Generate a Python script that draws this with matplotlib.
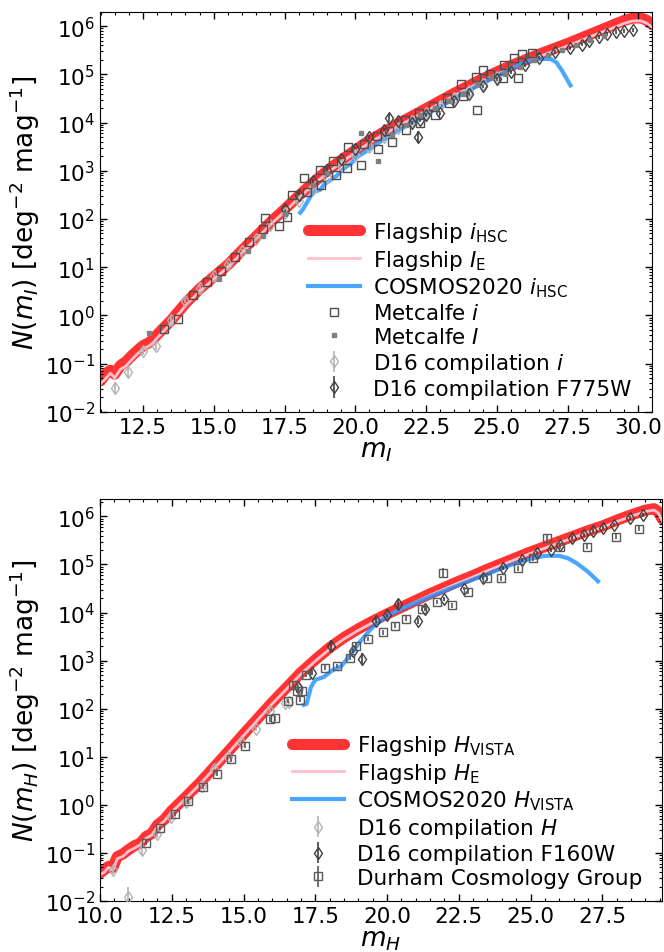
import numpy as np
import matplotlib
matplotlib.use("Agg")
import matplotlib.pyplot as plt
from matplotlib.ticker import MultipleLocator, LogLocator

plt.rcParams['font.family'] = ['DejaVu Sans']
plt.rcParams['mathtext.fontset'] = 'dejavusans'
FS_TICK = 15.5
FS_LEG = 15.5
FS_LAB = 19

# ---------------- Top panel data (i band) ----------------
flag_i_m = [11.0, 11.2, 11.35, 11.5, 11.7, 11.9, 12.1, 12.3, 12.5, 12.7, 12.85, 13.0, 13.5, 14.0, 14.5,
            15.0, 15.5, 16.0, 16.5, 17.0, 17.5, 18.0, 18.5, 19.0, 19.5, 20.0, 20.5, 21.0, 21.5,
            22.0, 22.5, 23.0, 23.5, 24.0, 24.5, 25.0, 25.5, 26.0, 26.5, 27.0, 27.5, 28.0, 28.5,
            29.0, 29.5, 29.8, 30.1, 30.3, 30.5]
flag_i_logN = [-1.36, -1.2, -1.14, -1.22, -1.04, -0.96, -0.84, -0.73, -0.63, -0.57, -0.5, -0.4, -0.1, 0.25, 0.55,
               0.8, 1.05, 1.35, 1.64, 1.93, 2.2, 2.48, 2.75, 3.0, 3.22, 3.43, 3.63, 3.8, 3.97,
               4.13, 4.29, 4.45, 4.61, 4.76, 4.91, 5.05, 5.18, 5.3, 5.42, 5.53, 5.64, 5.76, 5.88,
               6.0, 6.12, 6.17, 6.17, 6.12, 6.03]
flagIE_m = [11.0, 11.2, 11.35, 11.5, 11.7, 11.9, 12.1, 12.3, 12.5, 12.7, 12.85, 13.0, 13.5, 14.0, 14.5,
            15.0, 15.5, 16.0, 16.5, 17.0, 17.5, 18.0, 18.5, 19.0, 19.5, 20.0, 20.5, 21.0, 21.5,
            22.0, 22.5, 23.0, 23.5, 24.0, 24.5, 25.0, 25.5, 26.0, 26.5, 27.0, 27.5, 28.0, 28.5,
            29.0, 29.5, 29.8, 30.1, 30.3, 30.5]
flagIE_logN = [-1.42, -1.3, -1.2, -1.3, -1.12, -1.05, -0.92, -0.8, -0.7, -0.64, -0.57, -0.47, -0.16, 0.2, 0.5,
               0.75, 1.0, 1.3, 1.59, 1.88, 2.15, 2.43, 2.7, 2.95, 3.17, 3.38, 3.58, 3.75, 3.92,
               4.08, 4.24, 4.4, 4.56, 4.71, 4.86, 5.0, 5.13, 5.25, 5.37, 5.48, 5.59, 5.71, 5.83,
               5.94, 6.06, 6.11, 6.11, 6.06, 5.97]
cos_i_m = [18.05, 18.15, 18.3, 18.45, 18.6, 18.75, 18.9, 19.1, 19.35, 19.6, 19.85, 20.1, 20.5, 21.0,
           21.5, 22.0, 22.5, 23.0, 23.5, 24.0, 24.5, 25.0, 25.5, 26.0, 26.5, 26.9, 27.1, 27.3, 27.6]
cos_i_logN = [2.13, 2.2, 2.35, 2.5, 2.58, 2.6, 2.72, 2.8, 2.9, 3.05, 3.15, 3.3, 3.45, 3.65,
              3.83, 4.0, 4.17, 4.33, 4.5, 4.66, 4.82, 4.96, 5.12, 5.26, 5.32, 5.32, 5.25, 5.08, 4.77]

metI_m = [13.25, 13.75, 14.25, 14.75, 15.25, 15.75, 16.25, 16.75, 16.8, 17.3, 17.6, 17.75, 18.2, 18.3,
          18.75, 18.8, 19.2, 19.3, 19.7, 19.75, 20.2, 20.3, 20.75, 20.8, 21.2, 21.3, 21.75, 21.8,
          22.25, 22.3, 22.75, 22.8, 23.25, 23.3, 23.75, 23.8, 24.25, 24.3, 24.5, 24.75, 25.2, 25.25,
          25.6, 25.75, 25.9, 26.25]
metI_logN = [-0.29, -0.07, 0.42, 0.7, 0.93, 1.22, 1.52, 1.8, 2.02, 1.85, 2.05, 2.5, 2.85, 2.55,
             3.02, 2.7, 3.2, 2.92, 3.06, 3.5, 3.13, 3.55, 3.72, 3.45, 3.82, 3.6, 4.05, 3.85,
             4.2, 4.0, 4.35, 4.15, 4.5, 4.4, 4.8, 4.55, 4.95, 4.26, 5.1, 5.0, 4.92, 5.2,
             5.33, 4.92, 5.43, 5.45]
metBigI_m = [12.7, 15.2, 16.2, 16.74, 17.5, 18.5, 19.0, 20.2, 20.8, 21.3, 21.8, 22.3, 22.8, 23.3,
             23.8, 24.3, 24.8, 25.3, 25.8, 26.3, 26.8, 27.3, 27.8, 28.3, 28.8]
metBigI_logN = [-0.36, 0.75, 1.33, 1.64, 2.1, 2.7, 2.95, 3.79, 3.2, 3.75, 3.95, 4.15, 4.3, 4.45,
                4.6, 4.8, 4.95, 5.0, 5.15, 5.3, 5.4, 5.5, 5.6, 5.72, 5.8]
d16i_m = [11.5, 11.98, 12.5, 12.97, 13.5, 14.0, 14.5, 15.0, 15.5, 16.0, 16.5, 17.0, 17.5, 18.0,
          18.5, 19.0, 19.5, 20.0, 20.5, 21.0, 21.5, 22.0, 22.5, 23.0, 23.5, 24.0, 24.5, 25.0]
d16i_logN = [-1.5, -1.18, -0.74, -0.63, -0.1, 0.3, 0.57, 0.82, 1.07, 1.33, 1.58, 1.88, 2.13, 2.38,
             2.63, 2.88, 3.12, 3.33, 3.5, 3.7, 3.88, 4.04, 4.2, 4.35, 4.5, 4.65, 4.8, 4.95]
d16i_err = [0.12, 0.1, 0.08, 0.08, 0.06, 0.05, 0.05, 0.04, 0.04, 0.04, 0.04, 0.04, 0.04, 0.04,
            0.04, 0.04, 0.04, 0.04, 0.04, 0.04, 0.04, 0.04, 0.04, 0.04, 0.04, 0.04, 0.04, 0.04]
d16f775_m = [17.5, 18.0, 18.5, 19.0, 19.5, 20.0, 20.5, 21.0, 21.2, 21.5, 22.0, 22.2, 22.3, 22.5, 23.0,
             23.5, 24.0, 24.5, 25.0, 25.5, 26.0, 26.5, 27.04, 27.6, 28.0, 28.27, 28.6, 28.9, 29.2,
             29.5, 29.8]
d16f775_logN = [2.2, 2.5, 2.78, 3.02, 3.25, 3.45, 3.7, 3.85, 4.1, 4.03, 4.0, 3.7, 4.05, 4.15, 4.19,
                4.45, 4.6, 4.75, 4.9, 5.05, 5.2, 5.35, 5.47, 5.54, 5.62, 5.69, 5.78, 5.84, 5.88,
                5.9, 5.93]
d16f775_err = [0.06, 0.05, 0.05, 0.05, 0.04, 0.04, 0.04, 0.04, 0.08, 0.04, 0.04, 0.12, 0.04, 0.04, 0.04,
               0.04, 0.04, 0.04, 0.04, 0.04, 0.04, 0.04, 0.04, 0.04, 0.04, 0.04, 0.04, 0.04, 0.04,
               0.04, 0.04]

# ---------------- Bottom panel data (H band) ----------------
flag_H_m = [10.0, 10.15, 10.3, 10.45, 10.6, 10.8, 11.0, 11.2, 11.4, 11.6, 11.8, 12.0, 12.25, 12.5,
            13.0, 13.5, 14.0, 14.5, 15.0, 15.5, 16.0, 16.5, 17.0, 17.5, 18.0, 18.5, 19.0, 19.5,
            20.0, 20.5, 21.0, 21.5, 22.0, 22.5, 23.0, 23.5, 24.0, 24.5, 25.0, 25.5, 26.0, 26.5,
            27.0, 27.5, 28.0, 28.5, 29.0, 29.3, 29.45, 29.58]
flag_H_logN = [-1.42, -1.35, -1.28, -1.3, -1.08, -1.02, -0.93, -0.85, -0.8, -0.66, -0.6, -0.42, -0.3, -0.12,
               0.17, 0.47, 0.8, 1.13, 1.47, 1.8, 2.13, 2.44, 2.75, 3.02, 3.27, 3.48, 3.66, 3.82,
               3.97, 4.11, 4.25, 4.39, 4.52, 4.65, 4.77, 4.9, 5.02, 5.14, 5.26, 5.37, 5.48, 5.59,
               5.7, 5.8, 5.92, 6.03, 6.13, 6.16, 6.1, 5.95]
flagHE_m = [10.0, 10.15, 10.3, 10.45, 10.6, 10.8, 11.0, 11.2, 11.4, 11.6, 11.8, 12.0, 12.25, 12.5,
            13.0, 13.5, 14.0, 14.5, 15.0, 15.5, 16.0, 16.5, 17.0, 17.5, 18.0, 18.5, 19.0, 19.5,
            20.0, 20.5, 21.0, 21.5, 22.0, 22.5, 23.0, 23.5, 24.0, 24.5, 25.0, 25.5, 26.0, 26.5,
            27.0, 27.5, 28.0, 28.5, 29.0, 29.3, 29.45, 29.58]
flagHE_logN = [-1.45, -1.4, -1.3, -1.36, -1.12, -1.07, -0.96, -0.9, -0.83, -0.7, -0.63, -0.46, -0.33, -0.15,
               0.14, 0.44, 0.77, 1.1, 1.44, 1.77, 2.1, 2.41, 2.72, 2.99, 3.24, 3.45, 3.63, 3.79,
               3.94, 4.08, 4.22, 4.36, 4.49, 4.62, 4.74, 4.87, 4.99, 5.11, 5.23, 5.34, 5.45, 5.56,
               5.67, 5.77, 5.89, 6.0, 6.1, 6.13, 6.07, 5.92]
cos_H_m = [17.1, 17.2, 17.35, 17.5, 17.8, 18.1, 18.4, 18.7, 19.0, 19.5, 20.0, 20.5, 21.0, 21.5,
           22.0, 22.5, 23.0, 23.5, 24.0, 24.5, 25.0, 25.5, 26.0, 26.3, 26.6, 27.0, 27.35]
cos_H_logN = [2.08, 2.1, 2.45, 2.6, 2.66, 2.8, 2.88, 3.1, 3.35, 3.7, 3.93, 4.08, 4.2, 4.33,
              4.45, 4.57, 4.69, 4.8, 4.92, 5.03, 5.12, 5.18, 5.18, 5.13, 5.03, 4.85, 4.65]

d16H_m = [10.46, 10.98, 11.48, 12.0, 12.46, 13.0, 13.54, 13.97, 14.46, 14.91, 15.44, 15.94, 16.46,
          16.57, 16.95]
d16H_logN = [-1.36, -1.91, -0.94, -0.6, -0.26, 0.06, 0.4, 0.74, 0.99, 1.3, 1.57, 1.95, 2.12,
             2.13, 2.4]
d16H_err = [0.08, 0.2, 0.1, 0.08, 0.06, 0.05, 0.05, 0.04, 0.04, 0.04, 0.04, 0.04, 0.04, 0.04, 0.04]
d16f160_m = [16.9, 17.4, 18.05, 18.8, 19.13, 19.6, 20.0, 20.38, 21.07, 21.34, 22.0, 22.68, 23.36,
             24.03, 24.7, 25.23, 25.7, 26.04, 26.44, 26.85, 27.18, 27.52, 27.92, 28.46, 28.93]
d16f160_logN = [2.45, 2.75, 3.31, 3.2, 3.03, 3.83, 3.94, 4.18, 3.83, 4.08, 4.29, 4.5, 4.71,
                4.92, 5.09, 5.23, 5.3, 5.41, 5.55, 5.62, 5.69, 5.76, 5.83, 5.97, 6.03]
d16f160_err = [0.05, 0.05, 0.12, 0.05, 0.12, 0.05, 0.04, 0.1, 0.06, 0.05, 0.04, 0.04, 0.04,
               0.04, 0.04, 0.04, 0.04, 0.04, 0.04, 0.04, 0.04, 0.04, 0.04, 0.04, 0.04]
durham_m = [11.61, 12.1, 12.6, 13.08, 13.58, 14.06, 14.56, 15.05, 15.94, 16.11, 16.55, 16.71, 16.88,
            16.98, 17.05, 17.18, 17.85, 18.26, 18.72, 18.93, 19.33, 19.87, 20.27, 20.67, 21.21,
            21.74, 21.95, 22.28, 22.82, 23.49, 23.96, 24.56, 25.1, 25.57, 26.04, 26.98, 27.99, 28.79]
durham_logN = [-0.79, -0.48, -0.19, 0.07, 0.38, 0.65, 0.95, 1.23, 1.78, 1.8, 2.16, 2.5, 2.37,
               2.19, 2.36, 2.71, 2.85, 2.89, 3.06, 3.31, 3.45, 3.59, 3.73, 3.87, 4.08,
               4.22, 4.83, 4.15, 4.43, 4.71, 4.71, 4.92, 5.13, 5.55, 5.37, 5.37, 5.58, 5.74]
durham_err = [0.05, 0.05, 0.05, 0.05, 0.05, 0.05, 0.05, 0.05, 0.05, 0.05, 0.05, 0.05, 0.05,
              0.05, 0.05, 0.05, 0.05, 0.05, 0.05, 0.05, 0.05, 0.05, 0.05, 0.05, 0.05,
              0.05, 0.1, 0.05, 0.05, 0.05, 0.05, 0.05, 0.05, 0.06, 0.05, 0.05, 0.05, 0.05]

RED = 'red'
BLUE = 'dodgerblue'


def N(v):
    return np.power(10.0, np.asarray(v, dtype=float))


def errbars(logv, errdex):
    lv = np.asarray(logv, dtype=float)
    e = np.asarray(errdex, dtype=float)
    return [N(lv) - N(lv - e), N(lv + e) - N(lv)]


def style_axes(ax, xlim, ylim):
    ax.set_yscale('log')
    ax.set_xlim(*xlim)
    ax.set_ylim(*ylim)
    ax.xaxis.set_major_locator(MultipleLocator(2.5))
    ax.xaxis.set_minor_locator(MultipleLocator(0.5))
    ax.yaxis.set_major_locator(LogLocator(base=10, numticks=20))
    ax.yaxis.set_minor_locator(LogLocator(base=10, subs=np.arange(2, 10), numticks=200))
    ax.tick_params(which='both', direction='in', top=True, right=True, labelsize=FS_TICK)
    ax.tick_params(which='major', length=5, width=1)
    ax.tick_params(which='minor', length=2.5, width=0.8)


fig = plt.figure(figsize=(6.64, 9.53), dpi=100)
ax1 = fig.add_axes([100 / 664, 1 - 412.7 / 953, 552 / 664, 400 / 953])
ax2 = fig.add_axes([100 / 664, 1 - 902 / 953, 562 / 664, 402 / 953])

leg_kw = dict(loc='upper left', frameon=False, fontsize=FS_LEG, handlelength=2.4,
              handletextpad=0.6, labelspacing=0.18, borderpad=0.4)

# ---- top ----
h1, = ax1.plot(flag_i_m, N(flag_i_logN), color=RED, lw=8, alpha=0.8, zorder=1,
               label=r'Flagship $i_{\rm HSC}$', solid_capstyle='round')
h2, = ax1.plot(flagIE_m, N(flagIE_logN), color='pink', lw=2, zorder=2,
               label=r'Flagship $I_{\rm E}$')
h3, = ax1.plot(cos_i_m, N(cos_i_logN), color=BLUE, lw=3, alpha=0.8, zorder=3,
               label=r'COSMOS2020 $i_{\rm HSC}$')
h4, = ax1.plot(metI_m, N(metI_logN), ls='none', marker='s', ms=5.5, mfc='none', mec='0.3',
               mew=1, zorder=5, label=r'Metcalfe $i$')
h5, = ax1.plot(metBigI_m, N(metBigI_logN), ls='none', marker='s', ms=2.5, color='0.5',
               zorder=5, label=r'Metcalfe $I$')
h6 = ax1.errorbar(d16i_m, N(d16i_logN), yerr=errbars(d16i_logN, d16i_err), ls='none',
                  marker='d', ms=6, mfc='none', mec='0.7', ecolor='0.7', elinewidth=1.2,
                  zorder=4, label=r'D16 compilation $i$')
h7 = ax1.errorbar(d16f775_m, N(d16f775_logN), yerr=errbars(d16f775_logN, d16f775_err), ls='none',
                  marker='d', ms=6, mfc='none', mec='0.25', ecolor='0.25', elinewidth=1.2,
                  zorder=4, label='D16 compilation F775W')
style_axes(ax1, (10.98, 30.48), (1e-2, 2e6))
ax1.set_xlabel(r'$m_I$', fontsize=FS_LAB, labelpad=0)
ax1.set_ylabel(r'$N(m_I)$ [deg$^{-2}$ mag$^{-1}$]', fontsize=FS_LAB, labelpad=2)
ax1.legend(handles=[h1, h2, h3, h4, h5, h6, h7], bbox_to_anchor=(0.3424, 0.528), **leg_kw)

# ---- bottom ----
g1, = ax2.plot(flag_H_m, N(flag_H_logN), color=RED, lw=8, alpha=0.8, zorder=1,
               label=r'Flagship $H_{\rm VISTA}$', solid_capstyle='round')
g2, = ax2.plot(flagHE_m, N(flagHE_logN), color='pink', lw=2, zorder=2,
               label=r'Flagship $H_{\rm E}$')
g3, = ax2.plot(cos_H_m, N(cos_H_logN), color=BLUE, lw=3, alpha=0.8, zorder=3,
               label=r'COSMOS2020 $H_{\rm VISTA}$')
g4 = ax2.errorbar(d16H_m, N(d16H_logN), yerr=errbars(d16H_logN, d16H_err), ls='none',
                  marker='d', ms=6, mfc='none', mec='0.7', ecolor='0.7', elinewidth=1.2,
                  zorder=4, label=r'D16 compilation $H$')
g5 = ax2.errorbar(d16f160_m, N(d16f160_logN), yerr=errbars(d16f160_logN, d16f160_err), ls='none',
                  marker='d', ms=6, mfc='none', mec='0.25', ecolor='0.25', elinewidth=1.2,
                  zorder=4, label='D16 compilation F160W')
g6 = ax2.errorbar(durham_m, N(durham_logN), yerr=errbars(durham_logN, durham_err), ls='none',
                  marker='s', ms=5.5, mfc='none', mec='0.35', ecolor='0.35', elinewidth=1.2,
                  zorder=5, label='Durham Cosmology Group')
style_axes(ax2, (10.0, 29.58), (1e-2, 2.3e6))
ax2.set_xlabel(r'$m_H$', fontsize=FS_LAB, labelpad=0)
ax2.set_ylabel(r'$N(m_H)$ [deg$^{-2}$ mag$^{-1}$]', fontsize=FS_LAB, labelpad=2)
ax2.legend(handles=[g1, g2, g3, g4, g5, g6], bbox_to_anchor=(0.308, 0.466), **leg_kw)

fig.savefig('out.png', dpi=100)
